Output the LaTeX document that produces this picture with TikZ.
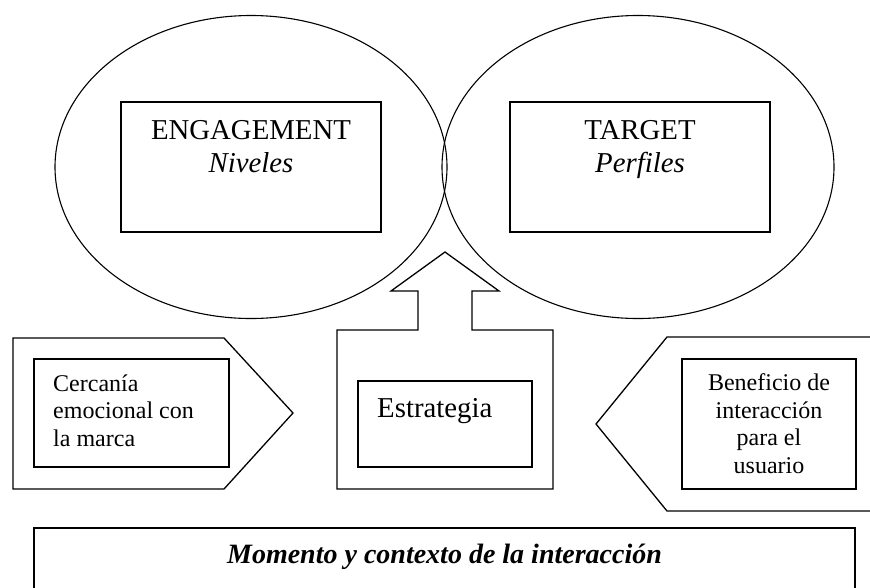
\documentclass[tikz,border=0pt]{standalone}
\usepackage{fontspec}
\setmainfont{Liberation Serif}
\usetikzlibrary{shapes.geometric}
\begin{document}
\begin{tikzpicture}[x=1pt,y=-1pt,
  oval/.style={draw,ellipse,line width=1.1pt,inner sep=0pt,minimum width=392pt,minimum height=303pt},
  box/.style={draw,rectangle,line width=1.3pt,inner sep=0pt},
  big/.style={font=\fontsize{28.8}{33}\selectfont,inner sep=0pt,align=center},
  small/.style={font=\fontsize{24}{27.5}\selectfont,inner sep=0pt},
  outline/.style={line width=1.3pt,line join=miter}]
\useasboundingbox (0,0) rectangle (870,587);
% ellipses
\node[oval] (engE) at (251,167) {};
\node[oval] (tarE) at (638,167) {};
% inner boxes of ellipses
\node[box,minimum width=260pt,minimum height=130pt] (engB) at (251,167) {};
\node[box,minimum width=260pt,minimum height=130pt] (tarB) at (640,167) {};
\node[big,anchor=base] (engT) at (251,172) {ENGAGEMENT\\\itshape Niveles};
\node[big,anchor=base] (tarT) at (640,172) {TARGET\\\itshape Perfiles};
% left pentagon
\draw[outline] (13,338) -- (224,338) -- (293,413) -- (224,489) -- (13,489) -- cycle;
\node[box,minimum width=195pt,minimum height=108pt] (cerB) at (131.5,413) {};
\node[small,anchor=base west,align=left] (cerT) at (53,446) {Cercanía\\emocional con\\la marca};
% central arrow shape
\draw[outline] (337,489) -- (337,330) -- (418,330) -- (418,291) -- (391,291) -- (445,252)
  -- (499,291) -- (472,291) -- (472,330) -- (553,330) -- (553,489) -- cycle;
\node[box,minimum width=174pt,minimum height=86pt] (estB) at (445,424) {};
\node[big,anchor=base west] (estT) at (377,417) {Estrategia};
% right pentagon (open to the right)
\draw[outline] (880,337) -- (667,337) -- (596,424) -- (667,511) -- (880,511);
\node[box,minimum width=174pt,minimum height=130pt] (benB) at (769,424) {};
\node[small,anchor=base,align=center] (benT) at (769,473) {Beneficio de\\interacción\\para el\\usuario};
% bottom box
\draw[outline] (34,600) -- (34,528) -- (855,528) -- (855,600);
\node[font=\fontsize{28}{32}\selectfont\bfseries\itshape,inner sep=0pt,anchor=base] (momT) at (444.5,563) {Momento y contexto de la interacción};
\end{tikzpicture}
\end{document}
